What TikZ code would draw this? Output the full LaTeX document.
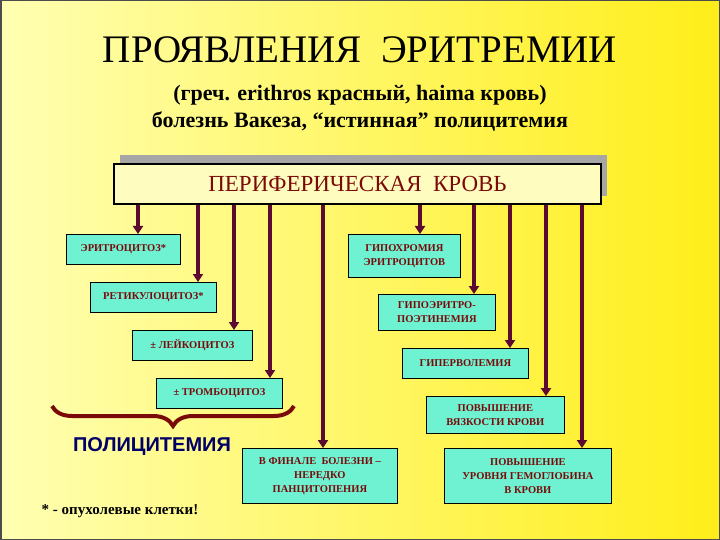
\documentclass[tikz,border=0pt]{standalone}
\usepackage{fontspec}
\setmainfont{Liberation Serif}
\newfontfamily\polyfont{Liberation Sans}
\usetikzlibrary{arrows.meta,decorations.pathreplacing}
\definecolor{dred}{HTML}{7A0A0A}
\definecolor{arr}{HTML}{5C0A30}
\definecolor{aqua}{HTML}{6EF2D2}
\tikzset{
 bx/.style={draw=black,line width=0.8pt,fill=aqua,font=\bfseries\fontsize{10.5}{14}\selectfont,text=dred,align=center,inner sep=0pt,anchor=north west},
 ar/.style={draw=arr,line width=3.5pt,-{Triangle[width=10pt,length=8pt]}}
}
\begin{document}
\begin{tikzpicture}[x=1pt,y=-1pt]
\useasboundingbox (0,0) rectangle (720,540);
\shade[left color=yellow!30!white,right color=yellow!85!orange!90!white] (0,0) rectangle (720,540);
\draw[line width=1.5pt,black!70] (0.75,0.75) rectangle (719.25,539.25);
\node[font=\fontsize{39}{44}\selectfont] (t) at (360,50) {ПРОЯВЛЕНИЯ\ \ ЭРИТРЕМИИ};
\node[font=\bfseries\fontsize{22}{27}\selectfont,align=center] (st) at (360,108) {(греч. erithros красный, haima кровь)\\болезнь Вакеза, “истинная” полицитемия};
\fill[gray!70] (120,155) rectangle (607,196);
\node[draw=black,line width=2pt,fill=yellow!25!white,minimum width=487pt,minimum height=40pt,inner sep=0pt,anchor=north west,font=\fontsize{23}{26}\selectfont,text=dred] (pk) at (113,163) {ПЕРИФЕРИЧЕСКАЯ\ \ КРОВЬ};
\node[bx,minimum width=114pt,minimum height=30pt] (b1) at (66,234) {ЭРИТРОЦИТОЗ*};
\node[bx,minimum width=126pt,minimum height=30pt] (b2) at (90,282) {РЕТИКУЛОЦИТОЗ*};
\node[bx,minimum width=120pt,minimum height=30pt] (b3) at (132,330) {± ЛЕЙКОЦИТОЗ};
\node[bx,minimum width=126pt,minimum height=30pt] (b4) at (156,378) {± ТРОМБОЦИТОЗ};
\node[bx,minimum width=112pt,minimum height=43pt] (c1) at (348,234) {ГИПОХРОМИЯ\\ЭРИТРОЦИТОВ};
\node[bx,minimum width=117pt,minimum height=36pt] (c2) at (378,294) {ГИПОЭРИТРО-\\ПОЭТИНЕМИЯ};
\node[bx,minimum width=126pt,minimum height=30pt] (c3) at (402,348) {ГИПЕРВОЛЕМИЯ};
\node[bx,minimum width=138pt,minimum height=37pt] (c4) at (426,396) {ПОВЫШЕНИЕ\\ВЯЗКОСТИ КРОВИ};
\node[bx,minimum width=155pt,minimum height=55pt] (d1) at (242,448) {В ФИНАЛЕ\ \ БОЛЕЗНИ –\\НЕРЕДКО\\ПАНЦИТОПЕНИЯ};
\node[bx,minimum width=167pt,minimum height=55pt] (d2) at (444,448) {ПОВЫШЕНИЕ\\УРОВНЯ ГЕМОГЛОБИНА\\В КРОВИ};
\draw[ar] (pk.south -| 138,0) -- (b1.north -| 138,0);
\draw[ar] (pk.south -| 198,0) -- (b2.north -| 198,0);
\draw[ar] (pk.south -| 234,0) -- (b3.north -| 234,0);
\draw[ar] (pk.south -| 270,0) -- (b4.north -| 270,0);
\draw[ar] (pk.south -| 323,0) -- (d1.north -| 323,0);
\draw[ar] (pk.south -| 420,0) -- (c1.north -| 420,0);
\draw[ar] (pk.south -| 474,0) -- (c2.north -| 474,0);
\draw[ar] (pk.south -| 510,0) -- (c3.north -| 510,0);
\draw[ar] (pk.south -| 546,0) -- (c4.north -| 546,0);
\draw[ar] (pk.south -| 582,0) -- (d2.north -| 582,0);
\draw[dred,line width=4pt,decorate,decoration={brace,amplitude=20pt,aspect=0.5}] (294,406) -- (52,406);
\node[font=\polyfont\bfseries\fontsize{20}{22}\selectfont,text=blue!40!black] (pol) at (152,447) {ПОЛИЦИТЕМИЯ};
\node[font=\bfseries\fontsize{15}{17}\selectfont] (fn) at (120,511) {* - опухолевые клетки!};
\end{tikzpicture}
\end{document}
